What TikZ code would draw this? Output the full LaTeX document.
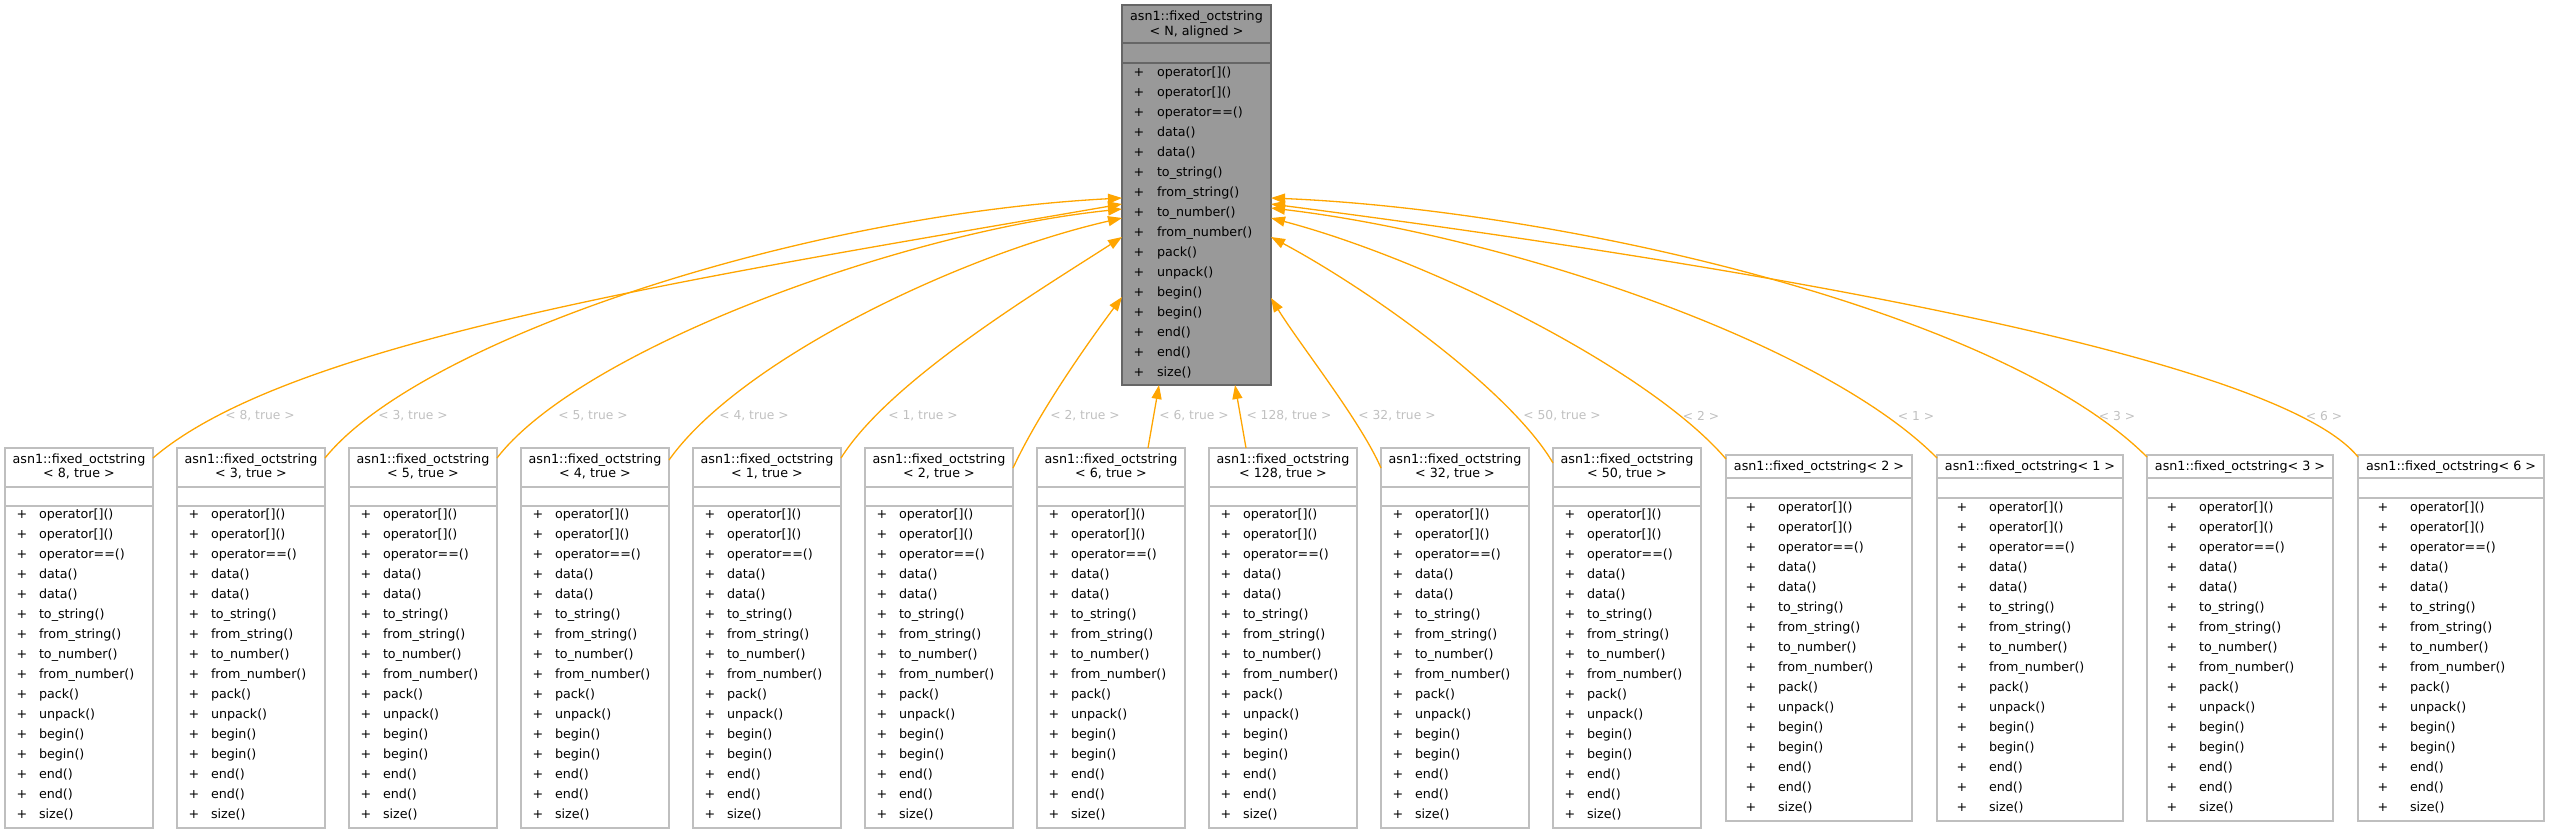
\documentclass[tikz,border=0pt]{standalone}
\usepackage{fontspec}
\setmainfont{DejaVu Sans}
\usetikzlibrary{arrows.meta}
\definecolor{edgeor}{HTML}{FFA500}
\definecolor{boxgray}{HTML}{BFBFBF}
\definecolor{lblgray}{HTML}{C0C0C0}
\definecolor{topfill}{HTML}{999999}
\definecolor{topdraw}{HTML}{666666}
\newcommand{\octmethods}{operator[](),operator[](),operator==(),data(),data(),to\_string(),from\_string(),to\_number(),from\_number(),pack(),unpack(),begin(),begin(),end(),end(),size()}
\tikzset{
  txt/.style={font=\fontsize{12.7}{15}\selectfont, inner sep=0pt, outer sep=0pt},
  lbl/.style={font=\fontsize{12.3}{14}\selectfont, text=lblgray, inner sep=0pt},
  cbox/.style={draw=boxgray, line width=1.5pt, fill=white, inner sep=0pt, outer sep=0pt},
  cline/.style={draw=boxgray, line width=1.5pt},
  topbox/.style={draw=topdraw, line width=1.5pt, fill=topfill, inner sep=0pt, outer sep=0pt},
  topline/.style={draw=topdraw, line width=1.5pt},
  inh/.style={draw=edgeor, line width=1.3pt, -{Triangle[length=14pt,width=10pt]}},
  plain/.style={draw=edgeor, line width=1.3pt}
}
\newcommand{\octA}[3]{%
  \node[cbox, minimum width=148pt, minimum height=380pt, anchor=north west] (#1) at (#2,448) {};
  \draw[cline] (#2,487) -- ++(148,0);
  \draw[cline] (#2,506) -- ++(148,0);
  \node[txt] (#1-ta) at (#2+74,460) {asn1::fixed\_octstring};
  \node[txt] (#1-tb) at (#2+74,474) {< #3 >};
  \foreach \m [count=\i from 0] in \octmethods {
    \node[txt,anchor=base] (#1-p\i) at (#2+17,518+20*\i) {+};
    \node[txt,anchor=base west] (#1-m\i) at (#2+34,518+20*\i) {\m};
  }
}
\newcommand{\octB}[3]{%
  \node[cbox, minimum width=186pt, minimum height=366pt, anchor=north west] (#1) at (#2,455) {};
  \draw[cline] (#2,478) -- ++(186,0);
  \draw[cline] (#2,498) -- ++(186,0);
  \node[txt] (#1-t) at (#2+93,467) {asn1::fixed\_octstring< #3 >};
  \foreach \m [count=\i from 0] in \octmethods {
    \node[txt,anchor=base] (#1-p\i) at (#2+25,511+20*\i) {+};
    \node[txt,anchor=base west] (#1-m\i) at (#2+52,511+20*\i) {\m};
  }
}
\begin{document}
\begin{tikzpicture}[x=1pt,y=-1pt]
\useasboundingbox (0,0) rectangle (2550,833);
% parent
\node[topbox, minimum width=149pt, minimum height=380pt, anchor=north west] (par) at (1122,5) {};
\draw[topline] (1122,43) -- ++(149,0);
\draw[topline] (1122,63) -- ++(149,0);
\node[txt] (par-ta) at (1196.5,16.7) {asn1::fixed\_octstring};
\node[txt] (par-tb) at (1196.5,32.3) {< N, aligned >};
\foreach \m [count=\i from 0] in \octmethods {
  \node[txt,anchor=base] (par-p\i) at (1139,76.7+20*\i) {+};
  \node[txt,anchor=base west] (par-m\i) at (1157,76.7+20*\i) {\m};
}
% children
\octA{n1}{5}{8, true}
\octA{n2}{177}{3, true}
\octA{n3}{349}{5, true}
\octA{n4}{521}{4, true}
\octA{n5}{693}{1, true}
\octA{n6}{865}{2, true}
\octA{n7}{1037}{6, true}
\octA{n8}{1209}{128, true}
\octA{n9}{1381}{32, true}
\octA{n10}{1553}{50, true}
\octB{n11}{1726}{2}
\octB{n12}{1937}{1}
\octB{n13}{2147}{3}
\octB{n14}{2358}{6}
% edges, left side
\draw[inh] ([yshift=-10pt]n1.north east) .. controls (290,340) and (700,277) .. ([yshift=-199pt]par.north west);
\draw[inh] ([yshift=-10pt]n2.north east) .. controls (420,340) and (800,215) .. ([yshift=-193pt]par.north west);
\draw[inh] ([yshift=-10pt]n3.north east) .. controls (580,350) and (900,232) .. ([yshift=-204pt]par.north west);
\draw[inh] ([yshift=-12pt]n4.north east) .. controls (740,360) and (960,255) .. ([yshift=-213pt]par.north west);
\draw[inh] ([yshift=-10pt]n5.north east) .. controls (890,380) and (1040,290) .. ([yshift=-232pt]par.north west);
\draw[inh] ([yshift=-20pt]n6.north east) .. controls (1040,410) and (1090,340) .. ([yshift=-292pt]par.north west);
% bottom
\draw[inh] ([xshift=37pt]n7.north) -- ([xshift=-37.5pt]par.south);
\draw[inh] ([xshift=-37pt]n8.north) -- ([xshift=38.5pt]par.south);
% right side
\draw[inh] ([yshift=-20pt]n9.north west) .. controls (1360,420) and (1300,345) .. ([yshift=-293pt]par.north east);
\draw[inh] ([yshift=-15pt]n10.north west) .. controls (1510,390) and (1370,290) .. ([yshift=-232pt]par.north east);
\draw[inh] ([yshift=-4pt]n11.north west) .. controls (1650,370) and (1430,260) .. ([yshift=-213pt]par.north east);
\draw[inh] ([yshift=-3pt]n12.north west) .. controls (1820,340) and (1500,235) .. ([yshift=-203pt]par.north east);
\draw[inh] ([yshift=-2pt]n13.north west) .. controls (2000,310) and (1560,210) .. ([yshift=-193pt]par.north east);
\draw[inh] ([yshift=-2pt]n14.north west) .. controls (2280,360) and (1780,270) .. ([yshift=-199pt]par.north east);
% labels
\node[lbl] (l1) at (260,416) {< 8, true >};
\node[lbl] (l2) at (413,416) {< 3, true >};
\node[lbl] (l3) at (593,416) {< 5, true >};
\node[lbl] (l4) at (754,416) {< 4, true >};
\node[lbl] (l5) at (923,416) {< 1, true >};
\node[lbl] (l6) at (1085,416) {< 2, true >};
\node[lbl] (l7) at (1194,416) {< 6, true >};
\node[lbl] (l8) at (1289,416) {< 128, true >};
\node[lbl] (l9) at (1397,416) {< 32, true >};
\node[lbl] (l10) at (1562,416) {< 50, true >};
\node[lbl] (l11) at (1701,416) {< 2 >};
\node[lbl] (l12) at (1916,416) {< 1 >};
\node[lbl] (l13) at (2117,416) {< 3 >};
\node[lbl] (l14) at (2324,416) {< 6 >};
\end{tikzpicture}
\end{document}
